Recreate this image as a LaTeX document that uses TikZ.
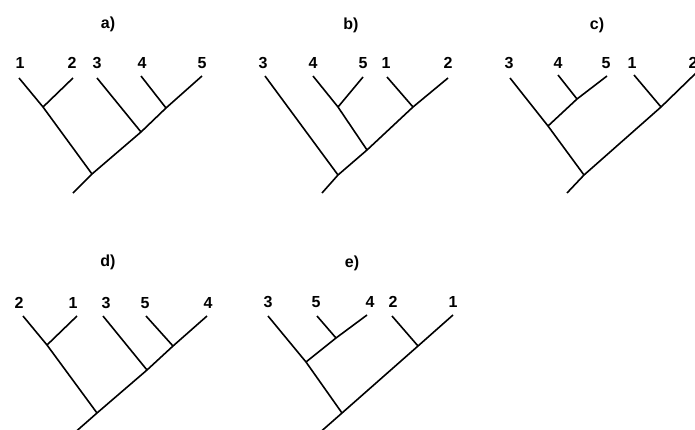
\documentclass[tikz,border=0pt]{standalone}
\usepackage{fontspec}
\setmainfont{Liberation Sans}
\usetikzlibrary{positioning}

\begin{document}
\begin{tikzpicture}[x=1pt, y=-1pt,
    branch/.style={line width=1.6pt, line join=round},
    leaflbl/.style={font=\bfseries\fontsize{16}{16}\selectfont, inner sep=0pt},
    treettl/.style={font=\bfseries\fontsize{16}{16}\selectfont, inner sep=0pt}
  ]
    \useasboundingbox (0,0) rectangle (695,429);

    % Tree a: ((1,2),(3,(4,5)))
    \node[treettl] (ta) at (108, 24) {a)};
    \node[leaflbl] (la1) at (20, 63) {1};
    \node[leaflbl] (la2) at (72, 63) {2};
    \node[leaflbl] (la3) at (97, 63) {3};
    \node[leaflbl] (la4) at (142, 63) {4};
    \node[leaflbl] (la5) at (202, 63) {5};
    \coordinate (a1) at (19, 78);
    \coordinate (a2) at (73, 78);
    \coordinate (a3) at (97, 78);
    \coordinate (a4) at (141, 76);
    \coordinate (a5) at (202, 76);
    \coordinate (a12) at (43, 107);
    \coordinate (a45) at (166, 108);
    \coordinate (a345) at (141, 132);
    \coordinate (aR) at (92, 174);
    \coordinate (aS) at (73, 193);
    \draw[branch] (a1) -- (a12) -- (aR);
    \draw[branch] (a2) -- (a12);
    \draw[branch] (a3) -- (a345);
    \draw[branch] (a4) -- (a45);
    \draw[branch] (a5) -- (a45) -- (a345) -- (aR) -- (aS);

    % Tree b: (3,((4,5),(1,2)))
    \node[treettl] (tb) at (351, 25) {b)};
    \node[leaflbl] (lb3) at (263, 63) {3};
    \node[leaflbl] (lb4) at (313, 63) {4};
    \node[leaflbl] (lb5) at (363, 63) {5};
    \node[leaflbl] (lb1) at (386, 63) {1};
    \node[leaflbl] (lb2) at (448, 63) {2};
    \coordinate (b3) at (265, 76);
    \coordinate (b4) at (313, 76);
    \coordinate (b5) at (363, 77);
    \coordinate (b1) at (387, 77);
    \coordinate (b2) at (448, 78);
    \coordinate (b45) at (338, 107);
    \coordinate (b12) at (413, 107);
    \coordinate (b4512) at (367, 150);
    \coordinate (bR) at (338, 175);
    \coordinate (bS) at (322, 193);
    \draw[branch] (b3) -- (bR);
    \draw[branch] (b4) -- (b45) -- (b4512);
    \draw[branch] (b5) -- (b45);
    \draw[branch] (b1) -- (b12);
    \draw[branch] (b2) -- (b12) -- (b4512) -- (bR) -- (bS);

    % Tree c: ((3,(4,5)),(1,2))
    \node[treettl] (tc) at (597, 25) {c)};
    \node[leaflbl] (lc3) at (509, 63) {3};
    \node[leaflbl] (lc4) at (558, 63) {4};
    \node[leaflbl] (lc5) at (606, 63) {5};
    \node[leaflbl] (lc1) at (632, 63) {1};
    \node[leaflbl] (lc2) at (693, 63) {2};
    \coordinate (c3) at (510, 78);
    \coordinate (c4) at (558, 75);
    \coordinate (c5) at (607, 76);
    \coordinate (c1) at (634, 75);
    \coordinate (c2) at (696, 73);
    \coordinate (c45) at (577, 99);
    \coordinate (c345) at (548, 126);
    \coordinate (c12) at (661, 107);
    \coordinate (cR) at (584, 175);
    \coordinate (cS) at (567, 193);
    \draw[branch] (c3) -- (c345) -- (cR);
    \draw[branch] (c4) -- (c45);
    \draw[branch] (c5) -- (c45) -- (c345);
    \draw[branch] (c1) -- (c12);
    \draw[branch] (c2) -- (c12) -- (cR) -- (cS);

    % Tree d: ((2,1),(3,(5,4)))
    \node[treettl] (td) at (108, 262) {d)};
    \node[leaflbl] (ld2) at (19, 303) {2};
    \node[leaflbl] (ld1) at (73, 303) {1};
    \node[leaflbl] (ld3) at (106, 303) {3};
    \node[leaflbl] (ld5) at (145, 303) {5};
    \node[leaflbl] (ld4) at (208, 303) {4};
    \coordinate (d2) at (23, 316);
    \coordinate (d1) at (77, 316);
    \coordinate (d3) at (103, 316);
    \coordinate (d5) at (146, 316);
    \coordinate (d4) at (207, 316);
    \coordinate (d21) at (47, 345);
    \coordinate (d54) at (173, 346);
    \coordinate (d354) at (147, 370);
    \coordinate (dR) at (97, 413);
    \coordinate (dS) at (72, 435);
    \draw[branch] (d2) -- (d21) -- (dR);
    \draw[branch] (d1) -- (d21);
    \draw[branch] (d3) -- (d354);
    \draw[branch] (d5) -- (d54);
    \draw[branch] (d4) -- (d54) -- (d354) -- (dR) -- (dS);

    % Tree e: ((3,(5,4)),(2,1))
    \node[treettl] (te) at (352, 263) {e)};
    \node[leaflbl] (le3) at (268, 302) {3};
    \node[leaflbl] (le5) at (316, 302) {5};
    \node[leaflbl] (le4) at (370, 302) {4};
    \node[leaflbl] (le2) at (393, 302) {2};
    \node[leaflbl] (le1) at (453, 302) {1};
    \coordinate (e3) at (268, 316);
    \coordinate (e5) at (317, 316);
    \coordinate (e4) at (367, 315);
    \coordinate (e2) at (392, 316);
    \coordinate (e1) at (453, 315);
    \coordinate (e54) at (336, 338);
    \coordinate (e354) at (306, 362);
    \coordinate (e21) at (418, 346);
    \coordinate (eR) at (342, 413);
    \coordinate (eS) at (317, 435);
    \draw[branch] (e3) -- (e354) -- (eR);
    \draw[branch] (e5) -- (e54);
    \draw[branch] (e4) -- (e54) -- (e354);
    \draw[branch] (e2) -- (e21);
    \draw[branch] (e1) -- (e21) -- (eR) -- (eS);
  \end{tikzpicture}
\end{document}
